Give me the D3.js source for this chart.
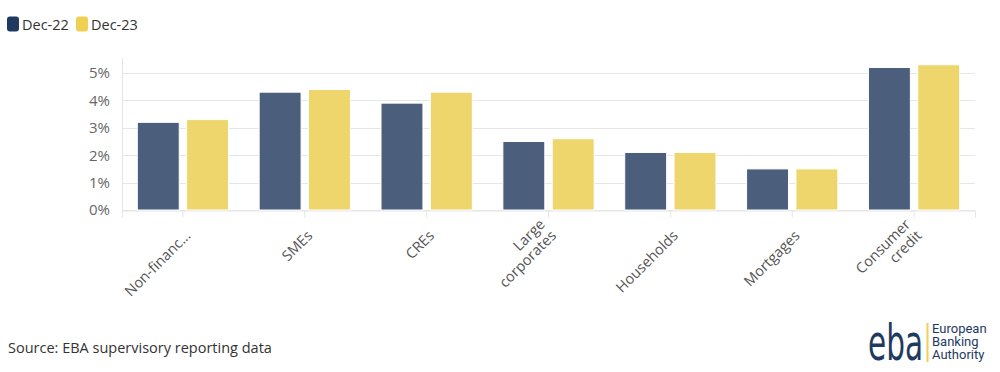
<!DOCTYPE html>
<html>
<head>
<meta charset="utf-8">
<script src="https://cdn.jsdelivr.net/npm/d3@7"></script>
<style>
  body { margin: 0; background: #fff; font-family: "Open Sans", sans-serif; }
  svg { display: block; }
</style>
</head>
<body>
<div id="chart"></div>
<script>
// chart data
var categories = ["Non-financ...", "SMEs", "CREs", "Large\ncorporates", "Households", "Mortgages", "Consumer\ncredit"];
var seriesNames = ["Dec-22", "Dec-23"];
var dec22 = [3.2, 4.3, 3.9, 2.5, 2.1, 1.5, 5.2];
var dec23 = [3.3, 4.4, 4.3, 2.6, 2.1, 1.5, 5.3];
var yTicks = [0, 1, 2, 3, 4, 5];

var W = 1000, H = 372;
var margin = {left: 122, right: 25, top: 58, bottom: 162};
var barColors = ["#4b5f7d", "#eed56c"];
var legendColors = ["#1f3a5f", "#f0d050"];

var svg = d3.select("#chart").append("svg").attr("width", W).attr("height", H);

var x = d3.scaleBand().domain(categories).range([margin.left, W - margin.right]);
var x1 = d3.scaleBand().domain(seriesNames).range([0, x.bandwidth()]).paddingInner(0.15).paddingOuter(0.31);
var y = d3.scaleLinear().domain([0, 5]).range([210, 73]);

//---------------------------------------------------------------------
// grid
svg.append("g").selectAll("line").data(yTicks).enter().append("line")
    .attr("x1", margin.left).attr("x2", W - margin.right)
    .attr("y1", function(d){ return Math.round(y(d)) + 0.5; })
    .attr("y2", function(d){ return Math.round(y(d)) + 0.5; })
    .style("stroke", "#e6e6e6").style("stroke-width", 1);

svg.append("line")
    .attr("x1", margin.left + 0.5).attr("x2", margin.left + 0.5)
    .attr("y1", margin.top).attr("y2", y(0))
    .style("stroke", "#e6e6e6");

// y axis labels
var yAxis = d3.axisLeft(y).tickValues(yTicks).tickSize(0).tickPadding(12)
    .tickFormat(function(d){ return d + "%"; });
var yg = svg.append("g").attr("transform", "translate(" + margin.left + ",0)").call(yAxis);
yg.select(".domain").remove();
yg.selectAll("text").style("font-family", "Open Sans").style("font-size", "15px").style("fill", "#666");

// x axis
var xAxis = d3.axisBottom(x).tickSize(7).tickFormat("");
var xg = svg.append("g").attr("transform", "translate(0," + (y(0) + 0.5) + ")").call(xAxis);
xg.select(".domain").style("stroke", "#e6e6e6");
xg.selectAll(".tick line").style("stroke", "#e6e6e6");

// rotated category labels
categories.forEach(function(c){
    var lines = c.split("\n");
    var cx = x(c) + x.bandwidth() / 2 + 5;
    var t = svg.append("text")
        .attr("transform", "translate(" + cx + "," + (y(0) + 23) + ") rotate(-45)")
        .attr("text-anchor", "end")
        .style("font-family", "Open Sans").style("font-size", "14.5px").style("fill", "#555");
    lines.forEach(function(l, i){
        t.append("tspan").attr("x", 0)
            .attr("dy", i === 0 ? (-(lines.length - 1) * 16 + 5) : 16)
            .text(l);
    });
});

//---------------------------------------------------------------------
// bars
var series = [dec22, dec23];
series.forEach(function(vals, s){
    svg.append("g").selectAll("rect").data(vals).enter().append("rect")
        .attr("x", function(d, i){ return x(categories[i]) + x1(seriesNames[s]); })
        .attr("y", function(d){ return y(d); })
        .attr("width", x1.bandwidth())
        .attr("height", function(d){ return y(0) - y(d); })
        .style("fill", barColors[s])
        .style("stroke", "#fff").style("stroke-width", 1);
});

//---------------------------------------------------------------------
// legend
var lg = svg.append("g");
var lx = 7;
seriesNames.forEach(function(n, i){
    lg.append("rect").attr("x", lx).attr("y", 16.5).attr("width", 12).attr("height", 15)
        .attr("rx", 3).style("fill", legendColors[i]);
    lg.append("text").attr("x", lx + 15).attr("y", 30)
        .style("font-family", "Open Sans").style("font-size", "14.5px").style("fill", "#333")
        .text(n);
    lx += 69;
});

// source
svg.append("text").attr("x", 8).attr("y", 353)
    .style("font-family", "Open Sans").style("font-size", "14.5px").style("fill", "#333")
    .text("Source: EBA supervisory reporting data");

// logo
var logo = svg.append("g");
logo.append("text").attr("x", 868).attr("y", 360)
    .attr("textLength", 55).attr("lengthAdjust", "spacingAndGlyphs")
    .style("font-family", "DejaVu Sans Condensed, sans-serif")
    .style("font-size", "50px").style("fill", "#1f3a5f")
    .text("eba");
logo.append("line").attr("x1", 927.5).attr("x2", 927.5).attr("y1", 323).attr("y2", 362)
    .style("stroke", "#f0d050").style("stroke-width", 2);
["European", "Banking", "Authority"].forEach(function(w, i){
    logo.append("text").attr("x", 932).attr("y", 333 + i * 13)
        .style("font-family", "Roboto").style("font-size", "13px").style("fill", "#1f3a5f")
        .text(w);
});
</script>
</body>
</html>
